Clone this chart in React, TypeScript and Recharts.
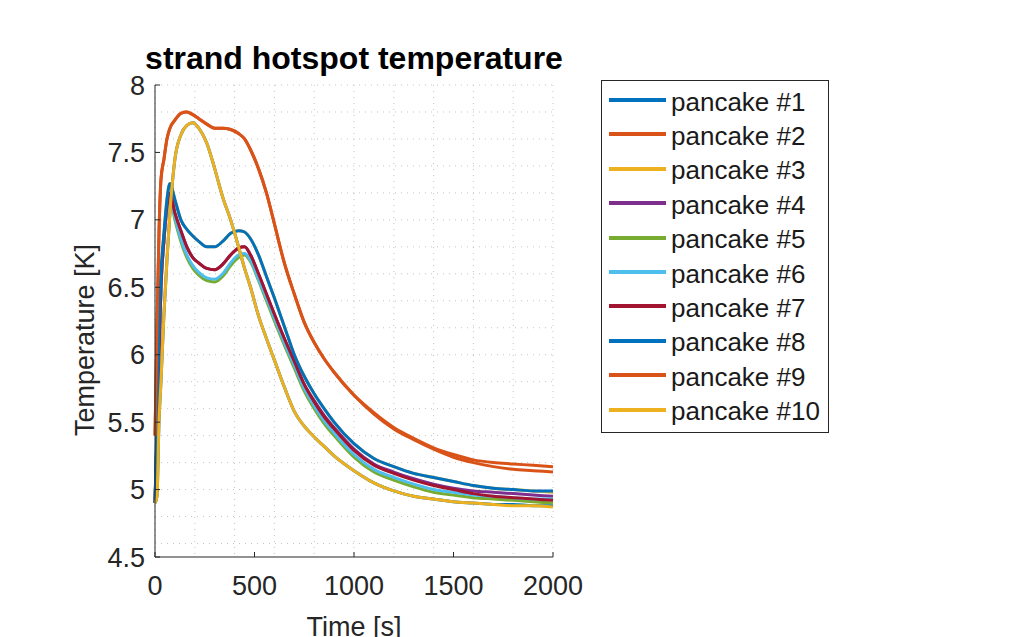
import { LineChart, Line, XAxis, YAxis, CartesianGrid } from 'recharts';

const FONT = '"Liberation Sans", Arial, Helvetica, sans-serif';
const INK = '#262626';

// sample times [s]
const time = [0, 10, 20, 30, 45, 60, 75, 100, 130, 160, 190, 220, 260, 300, 340, 380, 420, 450, 480, 520, 560, 600, 650, 700, 750, 800, 850, 900, 1000, 1100, 1200, 1300, 1400, 1500, 1600, 1700, 1800, 1900, 2000];

// hotspot temperature [K] per pancake
const p1 = [4.9, 4.95, 5.5, 5.8, 6.3, 6.7, 7.05, 7.45, 7.63, 7.7, 7.72, 7.68, 7.57, 7.38, 7.17, 7.0, 6.8, 6.64, 6.5, 6.29, 6.12, 5.96, 5.76, 5.58, 5.47, 5.39, 5.32, 5.25, 5.14, 5.05, 4.99, 4.95, 4.93, 4.91, 4.9, 4.89, 4.89, 4.88, 4.88];
const p2 = [5.4, 6.2, 6.9, 7.3, 7.45, 7.6, 7.68, 7.74, 7.79, 7.8, 7.78, 7.75, 7.71, 7.68, 7.68, 7.67, 7.64, 7.6, 7.52, 7.38, 7.2, 6.97, 6.68, 6.45, 6.24, 6.09, 5.97, 5.87, 5.7, 5.57, 5.46, 5.38, 5.31, 5.26, 5.22, 5.2, 5.19, 5.18, 5.17];
const p3 = [4.9, 5.5, 6.2, 6.6, 6.9, 7.15, 7.27, 7.15, 7.0, 6.93, 6.88, 6.84, 6.8, 6.8, 6.84, 6.9, 6.92, 6.91, 6.86, 6.74, 6.58, 6.42, 6.21, 6.0, 5.84, 5.71, 5.6, 5.5, 5.34, 5.23, 5.17, 5.12, 5.09, 5.06, 5.03, 5.01, 5.0, 4.99, 4.98];
const p4 = [4.9, 5.4, 6.0, 6.5, 6.85, 7.1, 7.2, 7.05, 6.92, 6.8, 6.72, 6.68, 6.64, 6.63, 6.67, 6.74, 6.79, 6.8, 6.74, 6.6, 6.45, 6.3, 6.12, 5.95, 5.78, 5.66, 5.55, 5.46, 5.3, 5.19, 5.13, 5.08, 5.04, 5.01, 4.99, 4.98, 4.97, 4.96, 4.95];
const p5 = [4.9, 5.4, 6.0, 6.5, 6.85, 7.07, 7.17, 7.0, 6.84, 6.72, 6.64, 6.59, 6.55, 6.54, 6.58, 6.66, 6.72, 6.74, 6.69, 6.55, 6.4, 6.25, 6.07, 5.9, 5.73, 5.6, 5.49, 5.4, 5.24, 5.13, 5.07, 5.02, 4.98, 4.96, 4.94, 4.93, 4.92, 4.91, 4.9];
const p6 = [4.9, 5.4, 6.0, 6.5, 6.85, 7.08, 7.18, 7.02, 6.86, 6.74, 6.66, 6.61, 6.57, 6.56, 6.6, 6.68, 6.74, 6.75, 6.7, 6.56, 6.42, 6.27, 6.09, 5.92, 5.75, 5.62, 5.51, 5.42, 5.26, 5.15, 5.09, 5.04, 5.0, 4.98, 4.96, 4.95, 4.94, 4.93, 4.93];
const p7 = [4.9, 5.4, 6.0, 6.5, 6.85, 7.1, 7.2, 7.05, 6.92, 6.8, 6.72, 6.68, 6.64, 6.63, 6.67, 6.74, 6.79, 6.8, 6.74, 6.6, 6.45, 6.3, 6.12, 5.95, 5.78, 5.65, 5.54, 5.45, 5.29, 5.18, 5.12, 5.07, 5.03, 5.0, 4.97, 4.95, 4.94, 4.93, 4.92];
const p8 = [4.9, 5.5, 6.2, 6.6, 6.9, 7.15, 7.27, 7.15, 7.0, 6.93, 6.88, 6.84, 6.8, 6.8, 6.84, 6.9, 6.92, 6.91, 6.86, 6.74, 6.58, 6.42, 6.21, 6.0, 5.84, 5.71, 5.6, 5.5, 5.34, 5.23, 5.17, 5.12, 5.09, 5.06, 5.03, 5.01, 5.0, 4.99, 4.99];
const p9 = [5.4, 6.2, 6.9, 7.3, 7.45, 7.6, 7.68, 7.74, 7.79, 7.8, 7.78, 7.75, 7.71, 7.68, 7.68, 7.67, 7.64, 7.6, 7.52, 7.38, 7.2, 6.97, 6.68, 6.45, 6.24, 6.09, 5.97, 5.87, 5.7, 5.56, 5.45, 5.37, 5.3, 5.24, 5.2, 5.17, 5.15, 5.14, 5.13];
const p10 = [4.9, 4.95, 5.5, 5.8, 6.3, 6.7, 7.05, 7.45, 7.63, 7.7, 7.72, 7.68, 7.57, 7.38, 7.17, 7.0, 6.8, 6.64, 6.5, 6.29, 6.12, 5.96, 5.76, 5.58, 5.47, 5.39, 5.32, 5.25, 5.14, 5.05, 4.99, 4.95, 4.93, 4.91, 4.9, 4.89, 4.88, 4.88, 4.87];

const series = [p1, p2, p3, p4, p5, p6, p7, p8, p9, p10];
const names = ['pancake #1', 'pancake #2', 'pancake #3', 'pancake #4', 'pancake #5', 'pancake #6', 'pancake #7', 'pancake #8', 'pancake #9', 'pancake #10'];
const colors = ['#0072BD', '#D95319', '#EDB120', '#7E2F8E', '#77AC30', '#4DBEEE', '#A2142F', '#0072BD', '#D95319', '#EDB120'];

const xTicks = [0, 500, 1000, 1500, 2000];
const yTicks = [4.5, 5, 5.5, 6, 6.5, 7, 7.5, 8];

const data = time.map((t, i) => {
  const row: Record<string, number> = { t };
  series.forEach((s, k) => {
    row['p' + (k + 1)] = s[i];
  });
  return row;
});

// minor grid every 100 s / 0.1 K
const gridX = Array.from({ length: 21 }, (_, i) => i * 100);
const gridY = Array.from({ length: 36 }, (_, i) => Math.round((4.5 + i * 0.1) * 10) / 10);

export default function App() {
  return (
    <div style={{ position: 'absolute', left: 0, top: 0, width: 1026, height: 637, overflow: 'hidden', background: '#fff', fontFamily: FONT }}>
      <LineChart width={1026} height={637} data={data} margin={{ top: 85, right: 473, bottom: 20, left: 95 }}>
        <CartesianGrid
          stroke="#c4c4c4"
          strokeDasharray="1 5"
          horizontalValues={gridY}
          verticalValues={gridX}
        />
        <XAxis
          dataKey="t"
          type="number"
          domain={[0, 2000]}
          ticks={xTicks}
          height={60}
          tickSize={-5}
          tickMargin={24}
          stroke={INK}
          tick={{ fill: INK, fontSize: 27, fontFamily: FONT }}
          axisLine={{ stroke: INK }}
          tickLine={{ stroke: INK }}
        />
        <YAxis
          type="number"
          domain={[4.5, 8]}
          ticks={yTicks}
          width={60}
          tickSize={-5}
          tickMargin={15}
          stroke={INK}
          tick={{ fill: INK, fontSize: 27, fontFamily: FONT }}
          axisLine={{ stroke: INK }}
          tickLine={{ stroke: INK }}
        />
        {series.map((_, k) => (
          <Line
            key={k}
            type="monotone"
            dataKey={'p' + (k + 1)}
            stroke={colors[k]}
            strokeWidth={3}
            dot={false}
            isAnimationActive={false}
          />
        ))}
      </LineChart>

      <div style={{ position: 'absolute', left: 0, width: 708, top: 39, textAlign: 'center', fontSize: 32, fontWeight: 'bold', color: '#000', lineHeight: '38px' }}>
        strand hotspot temperature
      </div>

      <div style={{ position: 'absolute', left: 85, top: 340, transform: 'translate(-50%, -50%) rotate(-90deg)', whiteSpace: 'nowrap', fontSize: 27, color: INK }}>
        Temperature [K]
      </div>

      <div style={{ position: 'absolute', left: 0, width: 708, top: 612, textAlign: 'center', fontSize: 27, color: INK, lineHeight: '31px' }}>
        Time [s]
      </div>

      <div style={{ position: 'absolute', left: 601, top: 80, width: 226, height: 351, border: '1px solid #262626', background: '#fff' }}>
        {names.map((n, k) => (
          <div key={k} style={{ position: 'absolute', left: 0, top: 4 + k * 34.4, height: 34, display: 'flex', alignItems: 'center' }}>
            <div style={{ marginLeft: 7, width: 57, height: 4, background: colors[k], marginTop: -4 }} />
            <span style={{ marginLeft: 5, fontSize: 26, color: '#1a1a1a', whiteSpace: 'nowrap' }}>{n}</span>
          </div>
        ))}
      </div>
    </div>
  );
}
